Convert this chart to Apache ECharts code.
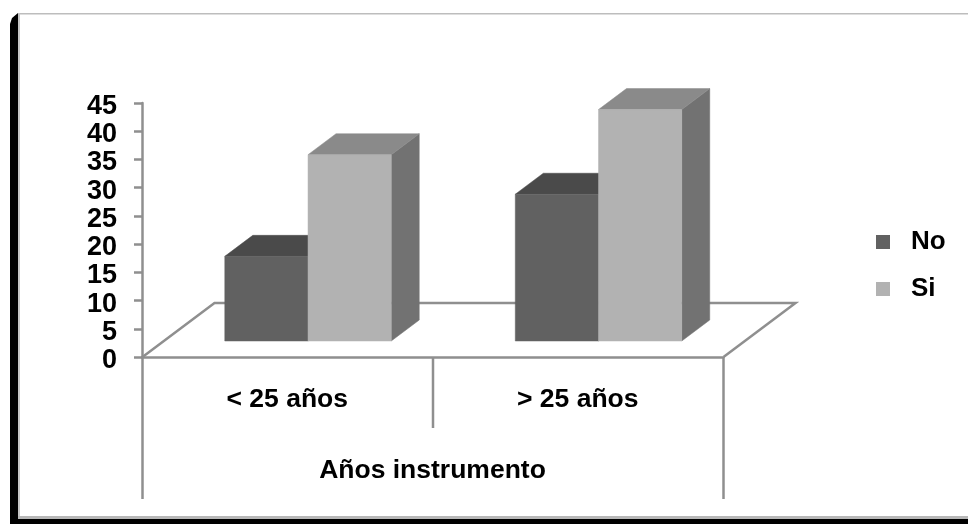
<!DOCTYPE html>
<html>
<head>
<meta charset="utf-8">
<style>html,body{margin:0;padding:0;background:#fff}#c{width:968px;height:524px}</style>
<script src="https://cdn.jsdelivr.net/npm/echarts@6/dist/echarts.min.js"></script>
</head>
<body>
<div id="c"></div>
<script>
const categories = ['< 25 años', '> 25 años'];
const yTicks = [0, 45, 5];
const noValues = [15, 26];
const siValues = [33, 41];
const seriesNames = ['No', 'Si'];
const axisTitle = 'Años instrumento';

const FONT = '"Liberation Sans", Arial, sans-serif';
const LINE = '#8f8f8f';
const LW = 2.5;
const faces = {
  No: {front: '#616161', top: '#4a4a4a', side: '#565656'},
  Si: {front: '#b2b2b2', top: '#8a8a8a', side: '#727272'}
};

function barRenderer(name, slot) {
  return function (params, api) {
    const cat = api.value(0), val = api.value(1);
    const band = api.size([1, 0])[0];
    const w = band * 0.2865;
    const sx = band * 0.0715;
    const floorDy = -16, dx = 28, dy = -21;
    const c0 = api.coord([cat, 0]);
    const c1 = api.coord([cat, val]);
    const x0 = c0[0] + sx + (slot - 1) * w;
    const x1 = x0 + w;
    const yb = c0[1] + floorDy;
    const yt = c1[1] + floorDy;
    const f = faces[name];
    const poly = (pts, fill) => ({
      type: 'polygon', shape: {points: pts},
      style: {fill: fill, stroke: fill, lineWidth: 0.5}
    });
    return {type: 'group', children: [
      poly([[x1, yb], [x1 + dx, yb + dy], [x1 + dx, yt + dy], [x1, yt]], f.side),
      poly([[x0, yt], [x1, yt], [x1 + dx, yt + dy], [x0 + dx, yt + dy]], f.top),
      poly([[x0, yb], [x1, yb], [x1, yt], [x0, yt]], f.front)
    ]};
  };
}

function floorRenderer(params, api) {
  const cs = params.coordSys;
  const l = cs.x + 0.5, r = cs.x + cs.width + 0.5, b = cs.y + cs.height;
  const m = (l + r) / 2;
  const fx = 72, fy = -54, drop = 142, midDrop = 71;
  const st = {stroke: LINE, lineWidth: LW, fill: 'none'};
  return {type: 'group', children: [
    {type: 'polyline', shape: {points: [[l, b], [l + fx, b + fy], [r + fx, b + fy], [r, b]]}, style: st},
    {type: 'line', shape: {x1: l, y1: b, x2: l, y2: b + drop}, style: st},
    {type: 'line', shape: {x1: m, y1: b, x2: m, y2: b + midDrop}, style: st},
    {type: 'line', shape: {x1: r, y1: b, x2: r, y2: b + drop}, style: st}
  ]};
}

const chart = echarts.init(document.getElementById('c'), null, {renderer: 'canvas'});
chart.setOption({
  animation: false,
  backgroundColor: '#ffffff',
  grid: {left: 142, right: 245, top: 103, bottom: 167, containLabel: false},
  legend: {
    data: seriesNames.map(n => ({name: n, icon: 'rect', itemStyle: {color: faces[n].front}})),
    orient: 'vertical', left: 871, top: 224,
    itemWidth: 14, itemHeight: 14, itemGap: 21,
    textStyle: {fontFamily: FONT, fontWeight: 'bold', fontSize: 26, color: '#000', padding: [0, 0, 0, 16]}
  },
  xAxis: {
    type: 'category', data: categories, boundaryGap: true,
    name: axisTitle, nameLocation: 'middle', nameGap: 100,
    nameTextStyle: {fontFamily: FONT, fontWeight: 'bold', fontSize: 26.5, color: '#000'},
    axisLine: {show: true, lineStyle: {color: LINE, width: LW}},
    axisTick: {show: false},
    axisLabel: {fontFamily: FONT, fontWeight: 'bold', fontSize: 26.5, color: '#000', margin: 29},
    splitLine: {show: false}
  },
  yAxis: {
    type: 'value', min: yTicks[0], max: yTicks[1], interval: yTicks[2],
    axisLine: {show: true, lineStyle: {color: LINE, width: LW}},
    axisTick: {show: true, length: 8, lineStyle: {color: LINE, width: LW}},
    axisLabel: {fontFamily: FONT, fontWeight: 'bold', fontSize: 27, color: '#000', margin: 25,
      verticalAlign: 'top', lineHeight: 7},
    splitLine: {show: false}
  },
  series: [
    {type: 'custom', name: 'floor', silent: true, renderItem: floorRenderer, data: [[0, 0]], clip: false, z: 1},
    {type: 'custom', name: 'No', renderItem: barRenderer('No', 0), clip: false, z: 2,
      itemStyle: {color: faces.No.front},
      encode: {x: 0, y: 1}, data: noValues.map((v, i) => [i, v])},
    {type: 'custom', name: 'Si', renderItem: barRenderer('Si', 1), clip: false, z: 3,
      itemStyle: {color: faces.Si.front},
      encode: {x: 0, y: 1}, data: siValues.map((v, i) => [i, v])}
  ],
  graphic: [
    {type: 'polygon', silent: true, z: 10, shape: {points: [[10, 24], [12, 18], [18, 13], [18, 519], [968, 519], [968, 524], [10, 524]]}, style: {fill: '#000'}},
    {type: 'rect', silent: true, z: 9, shape: {x: 18, y: 13, width: 950, height: 1.5}, style: {fill: '#bdbdbd'}},
    {type: 'rect', silent: true, z: 9, shape: {x: 18, y: 13, width: 2, height: 505}, style: {fill: '#c6c6c6'}},
    {type: 'rect', silent: true, z: 9, shape: {x: 18, y: 516, width: 950, height: 3}, style: {fill: '#b8b8b8'}}
  ]
});
</script>
</body>
</html>
